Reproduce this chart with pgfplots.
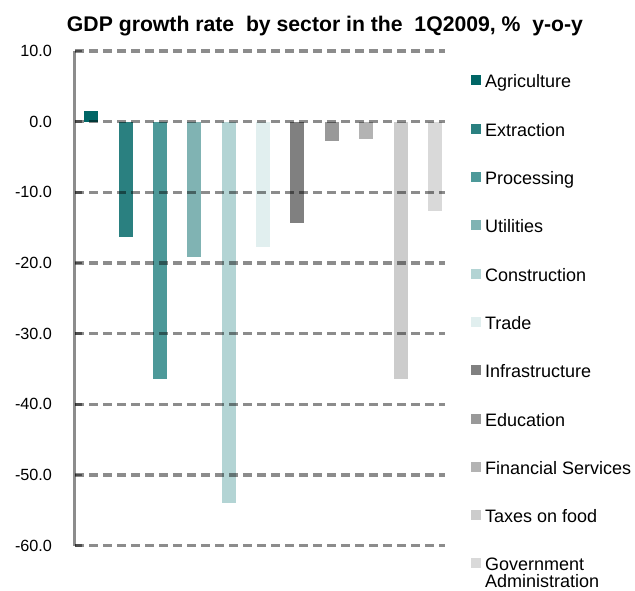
\documentclass[border=0pt]{standalone}
\usepackage{pgfplots}
\pgfplotsset{compat=1.18}
\usepackage{fontspec}
\setmainfont{Liberation Sans}
\definecolor{c1}{HTML}{006666}
\definecolor{c2}{HTML}{2A8080}
\definecolor{c3}{HTML}{4D9999}
\definecolor{c4}{HTML}{80B3B3}
\definecolor{c5}{HTML}{B3D4D4}
\definecolor{c6}{HTML}{E1EFEF}
\definecolor{c7}{HTML}{808080}
\definecolor{c8}{HTML}{999999}
\definecolor{c9}{HTML}{B3B3B3}
\definecolor{c10}{HTML}{CCCCCC}
\definecolor{c11}{HTML}{D9D9D9}
\begin{document}
\begin{tikzpicture}[x=1pt,y=1pt]
\useasboundingbox (0,0) rectangle (635,591);
\node[font=\bfseries\fontsize{21.2}{24}\selectfont, anchor=base] at (325,559) {GDP growth rate~ by sector in the~ 1Q2009, \%~ y-o-y};
\begin{axis}[
  at={(75pt,45.3pt)}, anchor=south west,
  scale only axis, width=370pt, height=494.7pt,
  xmin=-0.47, xmax=10.29, ymin=-60, ymax=10,
  ytick={-60,-50,...,10},
  /pgf/number format/assume math mode=true,
  yticklabel style={xshift=-19.5pt, /pgf/number format/.cd, fixed, fixed zerofill, precision=1},
  tick label style={font=\fontsize{16.2}{20}\selectfont},
  axis x line=none, axis y line=left,
  y axis line style={-, black, opacity=0.45, line width=3pt},
  ytick style={black, opacity=0.45, line width=2.5pt},
  major tick length=7pt, tick align=inside,
  ymajorgrids,
  major grid style={black, opacity=0.45, line width=3.3pt, dash pattern=on 9pt off 5pt},
  axis on top,
  ybar, bar width=14pt, bar shift=0pt,
  every axis plot/.append style={draw=none},
  legend cell align=left,
  legend image code/.code={\fill[#1] (0pt,-2pt) rectangle (10pt,8pt);},
  legend style={at={(1.07,0.952)}, anchor=north west, draw=none, fill=none,
    font=\fontsize{18}{19}\selectfont, row sep=31.3pt, column sep=4pt, inner sep=0pt,
    nodes={inner sep=0pt, text height=13pt, text depth=4pt}},
]
\addplot[fill=c1] coordinates {(0,1.5)};
\addlegendentry{Agriculture}
\addplot[fill=c2] coordinates {(1,-16.3)};
\addlegendentry{Extraction}
\addplot[fill=c3] coordinates {(2,-36.4)};
\addlegendentry{Processing}
\addplot[fill=c4] coordinates {(3,-19.1)};
\addlegendentry{Utilities}
\addplot[fill=c5] coordinates {(4,-54.0)};
\addlegendentry{Construction}
\addplot[fill=c6] coordinates {(5,-17.8)};
\addlegendentry{Trade}
\addplot[fill=c7] coordinates {(6,-14.3)};
\addlegendentry{Infrastructure}
\addplot[fill=c8] coordinates {(7,-2.7)};
\addlegendentry{Education}
\addplot[fill=c9] coordinates {(8,-2.4)};
\addlegendentry{Financial Services}
\addplot[fill=c10] coordinates {(9,-36.4)};
\addlegendentry{Taxes on food}
\addplot[fill=c11] coordinates {(10,-12.6)};
\addlegendentry{\begin{tabular}[t]{@{}l@{}}Government\\[-2pt]Administration\end{tabular}}
\end{axis}
\end{tikzpicture}
\end{document}
